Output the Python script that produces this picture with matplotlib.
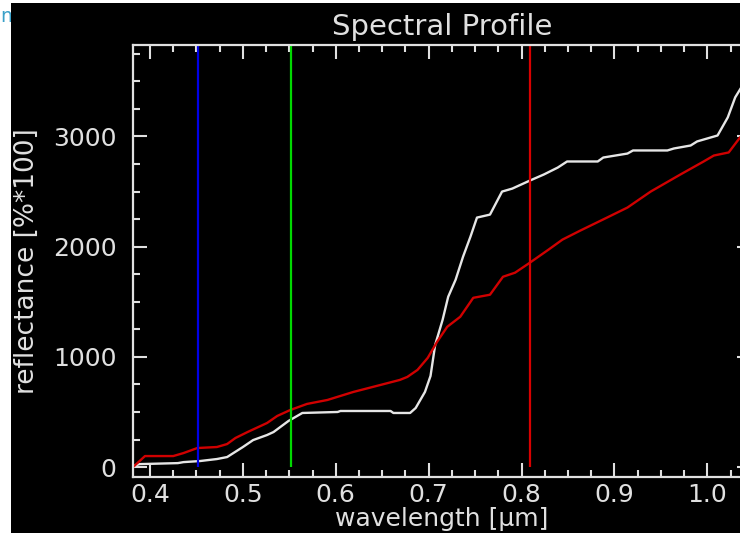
import matplotlib
matplotlib.use("Agg")
import matplotlib.pyplot as plt
from matplotlib.patches import Rectangle
from matplotlib.ticker import MultipleLocator

# white spectrum (wavelength in um, reflectance in %*100)
white_wl = [0.3817, 0.389, 0.430, 0.436, 0.454, 0.472, 0.483, 0.500, 0.511, 0.526,
            0.533, 0.549, 0.564, 0.602, 0.605, 0.659, 0.662, 0.680, 0.686, 0.696,
            0.702, 0.707, 0.715, 0.721, 0.729, 0.737, 0.745, 0.752, 0.766, 0.779,
            0.790, 0.809, 0.824, 0.839, 0.849, 0.882, 0.888, 0.914, 0.920, 0.957,
            0.964, 0.982, 0.989, 1.000, 1.011, 1.022, 1.030, 1.042]
white_refl = [10, 27, 36, 45, 55, 73, 91, 182, 245, 291,
              318, 418, 491, 500, 509, 509, 491, 491, 536, 682,
              827, 1109, 1336, 1545, 1700, 1909, 2091, 2264, 2291, 2500,
              2527, 2600, 2655, 2718, 2773, 2773, 2809, 2845, 2873, 2873,
              2891, 2918, 2955, 2982, 3009, 3173, 3355, 3520]

# red spectrum
red_wl = [0.3817, 0.3946, 0.425, 0.436, 0.451, 0.472, 0.483, 0.492, 0.505, 0.526,
          0.537, 0.551, 0.569, 0.591, 0.619, 0.648, 0.669, 0.677, 0.688, 0.699,
          0.709, 0.720, 0.734, 0.748, 0.766, 0.780, 0.793, 0.809, 0.829, 0.844,
          0.863, 0.892, 0.914, 0.939, 0.971, 0.996, 1.007, 1.023, 1.036, 1.042]
red_refl = [0, 100, 100, 127, 173, 182, 209, 264, 318, 400,
            464, 518, 573, 609, 682, 745, 791, 818, 882, 991,
            1136, 1273, 1364, 1536, 1564, 1727, 1764, 1855, 1973, 2064,
            2145, 2264, 2355, 2500, 2655, 2773, 2827, 2855, 3000, 3090]

# band markers (blue, green, red)
band_wl = [0.4517, 0.552, 0.8095]
band_colors = ["#0000e6", "#00d800", "#d80000"]

fg = "#e0e0e0"
font = "DejaVu Sans"

fig = plt.figure(figsize=(7.4, 5.33), dpi=100, facecolor="white")
# screenshot background: black panel with a white strip on the left/top
fig.text(0.0, 1 - 17 / 533, "ma", color="#3aa0c8", fontsize=14,
         va="center", ha="left", zorder=-11)
fig.patches.append(Rectangle((11 / 740, 0), 1, 1 - 3 / 533, transform=fig.transFigure,
                             facecolor="black", edgecolor="none", zorder=-10))

ax = fig.add_axes([133 / 740, 56 / 533, 618 / 740, 432 / 533])
ax.set_facecolor("black")

ax.plot(white_wl, white_refl, color="#e6e6e6", lw=1.7)
ax.plot(red_wl, red_refl, color="#d00000", lw=1.7)
ax.vlines(band_wl, 0, 3900, colors=band_colors, lw=1.6)

ax.set_xlim(0.3817, 1.047)
ax.set_ylim(-90, 3830)
ax.xaxis.set_major_locator(MultipleLocator(0.1))
ax.xaxis.set_minor_locator(MultipleLocator(0.025))
ax.yaxis.set_major_locator(MultipleLocator(1000))
ax.yaxis.set_minor_locator(MultipleLocator(250))
ax.xaxis.set_major_formatter(lambda v, p: f"{v:.1f}")

for s in ax.spines.values():
    s.set_color(fg)
    s.set_linewidth(1.6)
ax.tick_params(which="both", direction="in", top=True, right=True,
               color=fg, width=1.5, labelcolor=fg, labelsize=18)
ax.tick_params(which="major", length=10)
ax.tick_params(which="minor", length=5)
ax.tick_params(axis="x", pad=4)
ax.tick_params(axis="y", pad=12)
for lab in ax.get_xticklabels() + ax.get_yticklabels():
    lab.set_fontfamily(font)

ax.set_title("Spectral Profile", color=fg, fontsize=21, pad=7, family=font)
ax.set_xlabel("wavelength [μm]", color=fg, fontsize=18, labelpad=0, family=font)
ax.set_ylabel("reflectance [%*100]", color=fg, fontsize=19, labelpad=9, family=font)

fig.savefig("out.png", dpi=100, facecolor="white")
